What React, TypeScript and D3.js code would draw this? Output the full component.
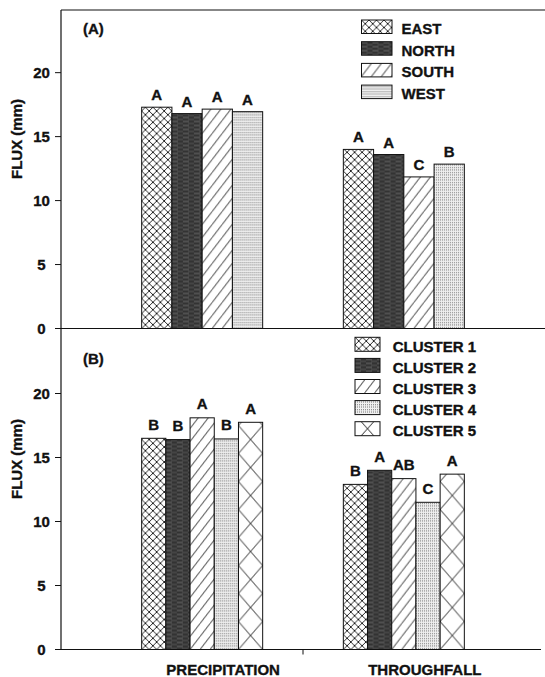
import React from "react";
import * as d3 from "d3";

// ---- data ----
const categories = ["PRECIPITATION", "THROUGHFALL"];

const aspectNames = ["EAST", "NORTH", "SOUTH", "WEST"];
const aspectPrecipitation = [17.3, 16.8, 17.15, 16.95];
const aspectThroughfall = [14.0, 13.6, 11.85, 12.85];
const aspectPrecipitationGroups = ["A", "A", "A", "A"];
const aspectThroughfallGroups = ["A", "A", "C", "B"];

const clusterNames = ["CLUSTER 1", "CLUSTER 2", "CLUSTER 3", "CLUSTER 4", "CLUSTER 5"];
const clusterPrecipitation = [16.5, 16.4, 18.1, 16.45, 17.75];
const clusterThroughfall = [12.9, 14.0, 13.35, 11.5, 13.7];
const clusterPrecipitationGroups = ["B", "B", "A", "B", "A"];
const clusterThroughfallGroups = ["B", "A", "AB", "C", "A"];

const yTicks = [0, 5, 10, 15, 20];

const aspectFills = ["cross", "dark", "diag", "dots"];
const clusterFills = ["cross", "dark", "diag", "dots", "bigcross"];

// ---- layout ----
const W = 545;
const H = 677;
const AXIS_X = 61;
const RIGHT = 545;
const FONT = "'Liberation Sans', Arial, Helvetica, sans-serif";
const INK = "#111";

// bold text with a hairline outline for a heavier face
const textStyle = {
  fontFamily: FONT,
  fontWeight: "bold" as const,
  fontSize: 15,
  fill: INK,
  stroke: INK,
  strokeWidth: 0.35,
};

const x = d3
  .scaleBand<string>()
  .domain(categories)
  .range([AXIS_X, RIGHT])
  .paddingInner(0.4)
  .paddingOuter(0.4);

function Tile({ id, kind, px, py, bw }: { id: string; kind: string; px: number; py: number; bw: number }) {
  if (kind === "cross") {
    const s = 7.5;
    return (
      <pattern id={id} patternUnits="userSpaceOnUse" x={px} y={py} width={s} height={s}>
        <rect width={s} height={s} fill="#fff" />
        <path d={`M-1,-1 L${s + 1},${s + 1} M${s + 1},-1 L-1,${s + 1}`} stroke={INK} strokeWidth={0.9} />
      </pattern>
    );
  }
  if (kind === "dark") {
    return (
      <pattern id={id} patternUnits="userSpaceOnUse" x={px} y={py} width={11} height={4}>
        <rect width={11} height={4} fill="#333" />
        <path d="M0,1 L6,1" stroke="#7a7a7a" strokeWidth={0.8} />
        <path d="M5,3 L11,3" stroke="#5e5e5e" strokeWidth={0.8} />
      </pattern>
    );
  }
  if (kind === "diag") {
    const w = 10;
    const h = 13;
    return (
      <pattern id={id} patternUnits="userSpaceOnUse" x={px} y={py} width={w} height={h}>
        <rect width={w} height={h} fill="#fff" />
        <path d={`M-1,${h + 1.3} L${w + 1},-1.3`} stroke={INK} strokeWidth={0.9} />
      </pattern>
    );
  }
  if (kind === "dots") {
    return (
      <pattern id={id} patternUnits="userSpaceOnUse" x={px} y={py} width={2} height={2.5}>
        <rect width={2} height={2.5} fill="#f0f0f0" />
        <rect x={0} y={1} width={1} height={1} fill="#707070" />
      </pattern>
    );
  }
  // bigcross: one diamond across the full bar width
  const h = 28;
  return (
    <pattern id={id} patternUnits="userSpaceOnUse" x={px} y={py} width={bw} height={h}>
      <rect width={bw} height={h} fill="#fff" />
      <path d={`M0,0 L${bw},${h} M${bw},0 L0,${h}`} stroke={INK} strokeWidth={0.9} />
    </pattern>
  );
}

interface PanelProps {
  tag: string;
  label: string;
  names: string[];
  fills: string[];
  values: number[][];
  groups: string[][];
  yRange: [number, number];
  legend: { x: number; y: number; w: number; h: number; step: number; tx: number; base: number };
  labelY: number;
  titleY: number;
  letterGap: number;
}

function Panel(p: PanelProps) {
  const y = d3.scaleLinear().domain([0, 25]).range(p.yRange);
  const inner = d3
    .scaleBand<number>()
    .domain(d3.range(p.names.length))
    .range([0, x.bandwidth()])
    .padding(0);
  const bw = inner.bandwidth();

  const bars = categories.flatMap((cat, ci) =>
    p.names.map((_, si) => {
      const bx = (x(cat) as number) + (inner(si) as number);
      const v = p.values[ci][si];
      return {
        id: `${p.tag}-b-${ci}-${si}`,
        kind: p.fills[si],
        x: bx,
        y: y(v),
        h: y(0) - y(v),
        letter: p.groups[ci][si],
      };
    })
  );

  return (
    <g>
      <defs>
        {bars.map((b) => (
          <Tile key={b.id} id={b.id} kind={b.kind} px={b.x} py={y(0)} bw={bw} />
        ))}
        {p.names.map((n, si) => (
          <Tile
            key={`lg${si}`}
            id={`${p.tag}-lg-${si}`}
            kind={p.fills[si]}
            px={p.legend.x}
            py={p.legend.y + si * p.legend.step - (p.fills[si] === "bigcross" ? 7 : 0)}
            bw={p.legend.w}
          />
        ))}
      </defs>

      {bars.map((b) => (
        <g key={b.id}>
          <rect
            x={b.x}
            y={b.y}
            width={bw}
            height={b.h}
            fill={`url(#${b.id})`}
            stroke={INK}
            strokeWidth={1}
          />
          <text x={b.x + bw / 2} y={b.y - p.letterGap} textAnchor="middle" {...textStyle}>
            {b.letter}
          </text>
        </g>
      ))}

      {/* y ticks */}
      {yTicks.map((t) => (
        <g key={t}>
          <line x1={AXIS_X - 6} x2={AXIS_X} y1={y(t)} y2={y(t)} stroke={INK} strokeWidth={1} />
          <text x={41.5} y={y(t)} dy="0.36em" textAnchor="middle" {...textStyle}>
            {t}
          </text>
        </g>
      ))}

      {/* axis title */}
      <text transform={`translate(22,${p.titleY}) rotate(-90)`} textAnchor="middle" {...textStyle}>
        FLUX (mm)
      </text>

      {/* panel tag */}
      <text x={83} y={p.labelY} {...textStyle}>
        {p.label}
      </text>

      {/* legend */}
      {p.names.map((n, si) => {
        const ty = p.legend.y + si * p.legend.step;
        return (
          <g key={n}>
            <rect
              x={p.legend.x}
              y={ty}
              width={p.legend.w}
              height={p.legend.h}
              fill={`url(#${p.tag}-lg-${si})`}
              stroke={INK}
              strokeWidth={1}
            />
            <text x={p.legend.tx} y={ty + p.legend.base} {...textStyle}>
              {n}
            </text>
          </g>
        );
      })}
    </g>
  );
}

export default function App() {
  const yA: [number, number] = [328.5, 8.7];
  const yB: [number, number] = [649.5, 329.5];
  const between = (x(categories[0]) as number) + x.bandwidth() + (x.step() - x.bandwidth()) / 2;

  return (
    <svg
      width={W}
      height={H}
      viewBox={`0 0 ${W} ${H}`}
      style={{ position: "absolute", left: 0, top: 0, background: "#fff" }}
    >
      <rect width={W} height={H} fill="#fff" />

      <Panel
        tag="a"
        label="(A)"
        names={aspectNames}
        fills={aspectFills}
        values={[aspectPrecipitation, aspectThroughfall]}
        groups={[aspectPrecipitationGroups, aspectThroughfallGroups]}
        yRange={yA}
        legend={{ x: 361.5, y: 20, w: 30.5, h: 13.5, step: 21.7, tx: 401.5, base: 13.8 }}
        labelY={34}
        titleY={139}
        letterGap={7}
      />
      <Panel
        tag="b"
        label="(B)"
        names={clusterNames}
        fills={clusterFills}
        values={[clusterPrecipitation, clusterThroughfall]}
        groups={[clusterPrecipitationGroups, clusterThroughfallGroups]}
        yRange={yB}
        legend={{ x: 355, y: 337.3, w: 25, h: 14, step: 21.1, tx: 392.7, base: 14.4 }}
        labelY={363.5}
        titleY={459}
        letterGap={8.5}
      />

      {/* frame */}
      <line x1={AXIS_X} x2={AXIS_X} y1={10} y2={yB[0]} stroke={INK} strokeWidth={1.2} />
      <line x1={AXIS_X} x2={RIGHT} y1={10} y2={10} stroke={INK} strokeWidth={1.2} />
      <line x1={AXIS_X} x2={RIGHT} y1={yA[0]} y2={yA[0]} stroke={INK} strokeWidth={1.2} />
      <line x1={AXIS_X} x2={541} y1={yB[0]} y2={yB[0]} stroke={INK} strokeWidth={1.2} />
      <line x1={between} x2={between} y1={yB[0]} y2={yB[0] + 5} stroke={INK} strokeWidth={1} />

      {/* category labels */}
      {categories.map((c) => (
        <text
          key={c}
          x={(x(c) as number) + x.bandwidth() / 2 + 21}
          y={674.5}
          textAnchor="middle"
          {...textStyle}
        >
          {c}
        </text>
      ))}
    </svg>
  );
}
